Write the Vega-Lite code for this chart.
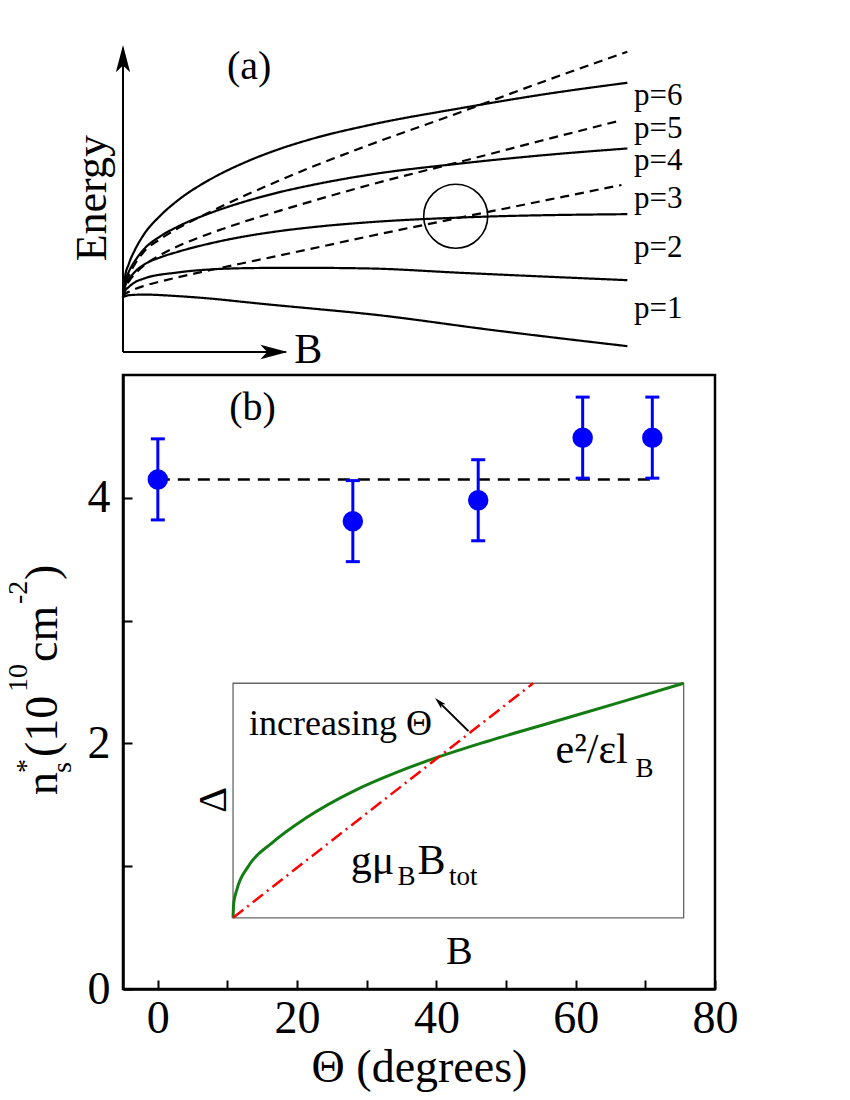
{
  "$schema": "https://vega.github.io/schema/vega-lite/v6.json",
  "background": "white",
  "padding": {"left": 3, "top": 45, "right": 5, "bottom": 5},
  "config": {"font": "Liberation Serif, Times New Roman, serif", "view": {"stroke": null}, "axis": {"grid": false, "labelFont": "Liberation Serif, Times New Roman, serif", "titleFont": "Liberation Serif, Times New Roman, serif"}, "text": {"font": "Liberation Serif, Times New Roman, serif"}},
  "spacing": 23,
  "bounds": "flush",
  "vconcat": [
    {
      "width": 592,
      "height": 307,
      "layer": [
        {
          "data": {"values": [
            {"curve": "S1", "kind": "solid", "B": 0, "E": 17.9}, {"curve": "S1", "kind": "solid", "B": 1, "E": 18.5}, {"curve": "S1", "kind": "solid", "B": 3.5, "E": 18.7}, {"curve": "S1", "kind": "solid", "B": 9.2, "E": 18.2}, {"curve": "S1", "kind": "solid", "B": 14.8, "E": 17.4}, {"curve": "S1", "kind": "solid", "B": 20.4, "E": 16.3}, {"curve": "S1", "kind": "solid", "B": 26.1, "E": 15.2}, {"curve": "S1", "kind": "solid", "B": 31.7, "E": 14.2}, {"curve": "S1", "kind": "solid", "B": 41.8, "E": 12.3}, {"curve": "S1", "kind": "solid", "B": 62.6, "E": 7.1}, {"curve": "S1", "kind": "solid", "B": 85.2, "E": 1.9},
            {"curve": "S2", "kind": "solid", "B": 0, "E": 17.9}, {"curve": "S2", "kind": "solid", "B": 0.3, "E": 19.7}, {"curve": "S2", "kind": "solid", "B": 1, "E": 21.2}, {"curve": "S2", "kind": "solid", "B": 2, "E": 22.7}, {"curve": "S2", "kind": "solid", "B": 3.5, "E": 23.9}, {"curve": "S2", "kind": "solid", "B": 9.2, "E": 25.9}, {"curve": "S2", "kind": "solid", "B": 14.8, "E": 26.9}, {"curve": "S2", "kind": "solid", "B": 20.4, "E": 27.3}, {"curve": "S2", "kind": "solid", "B": 26.1, "E": 27.4}, {"curve": "S2", "kind": "solid", "B": 31.7, "E": 27.4}, {"curve": "S2", "kind": "solid", "B": 41.8, "E": 27.2}, {"curve": "S2", "kind": "solid", "B": 57, "E": 25.8}, {"curve": "S2", "kind": "solid", "B": 85.2, "E": 23.4},
            {"curve": "S3", "kind": "solid", "B": 0, "E": 17.9}, {"curve": "S3", "kind": "solid", "B": 0.3, "E": 21}, {"curve": "S3", "kind": "solid", "B": 1, "E": 23.7}, {"curve": "S3", "kind": "solid", "B": 2, "E": 26.1}, {"curve": "S3", "kind": "solid", "B": 3.5, "E": 28.4}, {"curve": "S3", "kind": "solid", "B": 6.4, "E": 30.9}, {"curve": "S3", "kind": "solid", "B": 9.2, "E": 32.6}, {"curve": "S3", "kind": "solid", "B": 14.8, "E": 35.4}, {"curve": "S3", "kind": "solid", "B": 20.4, "E": 37.6}, {"curve": "S3", "kind": "solid", "B": 26.1, "E": 39.3}, {"curve": "S3", "kind": "solid", "B": 31.7, "E": 40.6}, {"curve": "S3", "kind": "solid", "B": 41.8, "E": 42.3}, {"curve": "S3", "kind": "solid", "B": 57, "E": 43.8}, {"curve": "S3", "kind": "solid", "B": 85.2, "E": 44.9},
            {"curve": "S4", "kind": "solid", "B": 0, "E": 17.9}, {"curve": "S4", "kind": "solid", "B": 0.3, "E": 22.4}, {"curve": "S4", "kind": "solid", "B": 1, "E": 26.2}, {"curve": "S4", "kind": "solid", "B": 2, "E": 29.6}, {"curve": "S4", "kind": "solid", "B": 3.5, "E": 33.4}, {"curve": "S4", "kind": "solid", "B": 6.4, "E": 37.8}, {"curve": "S4", "kind": "solid", "B": 9.2, "E": 40.8}, {"curve": "S4", "kind": "solid", "B": 14.8, "E": 45.3}, {"curve": "S4", "kind": "solid", "B": 20.4, "E": 48.9}, {"curve": "S4", "kind": "solid", "B": 26.1, "E": 51.9}, {"curve": "S4", "kind": "solid", "B": 31.7, "E": 54.3}, {"curve": "S4", "kind": "solid", "B": 41.8, "E": 57.8}, {"curve": "S4", "kind": "solid", "B": 57, "E": 61.4}, {"curve": "S4", "kind": "solid", "B": 71, "E": 64.1}, {"curve": "S4", "kind": "solid", "B": 85.2, "E": 66.3},
            {"curve": "S6", "kind": "solid", "B": 0, "E": 17.9}, {"curve": "S6", "kind": "solid", "B": 0.3, "E": 24.0}, {"curve": "S6", "kind": "solid", "B": 1, "E": 28.8}, {"curve": "S6", "kind": "solid", "B": 2, "E": 33.2}, {"curve": "S6", "kind": "solid", "B": 3.5, "E": 38.2}, {"curve": "S6", "kind": "solid", "B": 6.4, "E": 44.6}, {"curve": "S6", "kind": "solid", "B": 9.2, "E": 49.3}, {"curve": "S6", "kind": "solid", "B": 14.8, "E": 56.3}, {"curve": "S6", "kind": "solid", "B": 20.4, "E": 61.6}, {"curve": "S6", "kind": "solid", "B": 26.1, "E": 65.9}, {"curve": "S6", "kind": "solid", "B": 31.7, "E": 69.3}, {"curve": "S6", "kind": "solid", "B": 41.8, "E": 74.0}, {"curve": "S6", "kind": "solid", "B": 57, "E": 79.4}, {"curve": "S6", "kind": "solid", "B": 71, "E": 83.9}, {"curve": "S6", "kind": "solid", "B": 85.2, "E": 87.7},
            {"curve": "D1", "kind": "dashed", "B": 0, "E": 17.9}, {"curve": "D1", "kind": "dashed", "B": 0.3, "E": 21.5}, {"curve": "D1", "kind": "dashed", "B": 1, "E": 25}, {"curve": "D1", "kind": "dashed", "B": 2, "E": 28.6}, {"curve": "D1", "kind": "dashed", "B": 3.5, "E": 32.6}, {"curve": "D1", "kind": "dashed", "B": 6.4, "E": 36.9}, {"curve": "D1", "kind": "dashed", "B": 9.2, "E": 40.2}, {"curve": "D1", "kind": "dashed", "B": 14.8, "E": 45.7}, {"curve": "D1", "kind": "dashed", "B": 20.4, "E": 50.8}, {"curve": "D1", "kind": "dashed", "B": 26.1, "E": 55.6}, {"curve": "D1", "kind": "dashed", "B": 31.7, "E": 60.1}, {"curve": "D1", "kind": "dashed", "B": 41.8, "E": 67.6}, {"curve": "D1", "kind": "dashed", "B": 57, "E": 78.1}, {"curve": "D1", "kind": "dashed", "B": 70.6, "E": 87.8}, {"curve": "D1", "kind": "dashed", "B": 85.2, "E": 97.8},
            {"curve": "D2", "kind": "dashed", "B": 0, "E": 17.9}, {"curve": "D2", "kind": "dashed", "B": 0.3, "E": 20.6}, {"curve": "D2", "kind": "dashed", "B": 1, "E": 23}, {"curve": "D2", "kind": "dashed", "B": 2, "E": 25.4}, {"curve": "D2", "kind": "dashed", "B": 3.5, "E": 28.1}, {"curve": "D2", "kind": "dashed", "B": 6.4, "E": 31.7}, {"curve": "D2", "kind": "dashed", "B": 9.2, "E": 34.4}, {"curve": "D2", "kind": "dashed", "B": 14.8, "E": 38.7}, {"curve": "D2", "kind": "dashed", "B": 20.4, "E": 42.4}, {"curve": "D2", "kind": "dashed", "B": 26.1, "E": 45.8}, {"curve": "D2", "kind": "dashed", "B": 31.7, "E": 49.0}, {"curve": "D2", "kind": "dashed", "B": 41.8, "E": 54.5}, {"curve": "D2", "kind": "dashed", "B": 57, "E": 62}, {"curve": "D2", "kind": "dashed", "B": 70.6, "E": 68.8}, {"curve": "D2", "kind": "dashed", "B": 84.2, "E": 75.5},
            {"curve": "D3", "kind": "dashed", "B": 0, "E": 17.9}, {"curve": "D3", "kind": "dashed", "B": 0.3, "E": 18.8}, {"curve": "D3", "kind": "dashed", "B": 1, "E": 19.6}, {"curve": "D3", "kind": "dashed", "B": 2, "E": 20.5}, {"curve": "D3", "kind": "dashed", "B": 3.5, "E": 21.5}, {"curve": "D3", "kind": "dashed", "B": 6.4, "E": 23.0}, {"curve": "D3", "kind": "dashed", "B": 9.2, "E": 24.3}, {"curve": "D3", "kind": "dashed", "B": 14.8, "E": 26.7}, {"curve": "D3", "kind": "dashed", "B": 20.4, "E": 29.0}, {"curve": "D3", "kind": "dashed", "B": 26.1, "E": 31.3}, {"curve": "D3", "kind": "dashed", "B": 31.7, "E": 33.6}, {"curve": "D3", "kind": "dashed", "B": 41.8, "E": 37.8}, {"curve": "D3", "kind": "dashed", "B": 57, "E": 43.8}, {"curve": "D3", "kind": "dashed", "B": 70.6, "E": 49.1}, {"curve": "D3", "kind": "dashed", "B": 84.2, "E": 54.4}
          ]},
          "mark": {"type": "line", "interpolate": "monotone", "strokeWidth": 2.2, "color": "black"},
          "encoding": {
            "x": {"field": "B", "type": "quantitative", "scale": {"domain": [0, 100], "nice": false, "zero": false}, "axis": null},
            "y": {"field": "E", "type": "quantitative", "scale": {"domain": [0, 100], "nice": false, "zero": false}, "axis": null},
            "detail": {"field": "curve", "type": "nominal"},
            "strokeDash": {"field": "kind", "type": "nominal", "scale": {"domain": ["solid", "dashed"], "range": [[1, 0], [9, 6]]}, "legend": null}
          }
        },
        {
          "data": {"values": [{"B": 0, "E": 0, "E2": 99}]},
          "mark": {"type": "rule", "strokeWidth": 2, "color": "black"},
          "encoding": {"x": {"field": "B", "type": "quantitative"}, "y": {"field": "E", "type": "quantitative"}, "y2": {"field": "E2"}}
        },
        {
          "data": {"values": [{"B": 0, "B2": 27.5, "E": 0}]},
          "mark": {"type": "rule", "strokeWidth": 2, "color": "black"},
          "encoding": {"x": {"field": "B", "type": "quantitative"}, "x2": {"field": "B2"}, "y": {"field": "E", "type": "quantitative"}}
        },
        {
          "data": {"values": [{"B": 0, "E": 100}]},
          "mark": {"type": "point", "shape": "M0,0L-0.42,1.6L0,1.2L0.42,1.6Z", "size": 1156, "filled": true, "color": "black", "opacity": 1, "strokeWidth": 0, "angle": 0},
          "encoding": {"x": {"field": "B", "type": "quantitative"}, "y": {"field": "E", "type": "quantitative"}}
        },
        {
          "data": {"values": [{"B": 27.8, "E": 0}]},
          "mark": {"type": "point", "shape": "M0,0L-0.42,1.6L0,1.2L0.42,1.6Z", "size": 1156, "filled": true, "color": "black", "opacity": 1, "strokeWidth": 0, "angle": 90},
          "encoding": {"x": {"field": "B", "type": "quantitative"}, "y": {"field": "E", "type": "quantitative"}}
        },
        {
          "data": {"values": [{"B": 56.2, "E": 44.2}]},
          "mark": {"type": "point", "shape": "circle", "size": 4096, "filled": false, "color": "black", "opacity": 1, "strokeWidth": 1.6},
          "encoding": {"x": {"field": "B", "type": "quantitative"}, "y": {"field": "E", "type": "quantitative"}}
        },
        {
          "data": {"values": [
            {"B": 86.3, "E": 80.4, "label": "p=6"},
            {"B": 86.3, "E": 69.7, "label": "p=5"},
            {"B": 86.3, "E": 59.2, "label": "p=4"},
            {"B": 86.3, "E": 46.9, "label": "p=3"},
            {"B": 86.3, "E": 30.9, "label": "p=2"},
            {"B": 86.3, "E": 11.0, "label": "p=1"}
          ]},
          "mark": {"type": "text", "align": "left", "baseline": "alphabetic", "fontSize": 31, "color": "black"},
          "encoding": {"x": {"field": "B", "type": "quantitative"}, "y": {"field": "E", "type": "quantitative"}, "text": {"field": "label"}}
        },
        {
          "data": {"values": [{"B": 21.3, "E": 88.8, "label": "(a)"}]},
          "mark": {"type": "text", "align": "center", "baseline": "alphabetic", "fontSize": 40, "color": "black"},
          "encoding": {"x": {"field": "B", "type": "quantitative"}, "y": {"field": "E", "type": "quantitative"}, "text": {"field": "label"}}
        },
        {
          "data": {"values": [{"B": 31.3, "E": -3.7, "label": "B"}]},
          "mark": {"type": "text", "align": "center", "baseline": "alphabetic", "fontSize": 42, "color": "black"},
          "encoding": {"x": {"field": "B", "type": "quantitative"}, "y": {"field": "E", "type": "quantitative"}, "text": {"field": "label"}}
        },
        {
          "data": {"values": [{"B": -2.9, "E": 50.1, "label": "Energy"}]},
          "mark": {"type": "text", "align": "center", "baseline": "alphabetic", "fontSize": 44, "angle": 270, "color": "black"},
          "encoding": {"x": {"field": "B", "type": "quantitative"}, "y": {"field": "E", "type": "quantitative"}, "text": {"field": "label"}}
        }
      ]
    },
    {
      "width": 592,
      "height": 614,
      "view": {"stroke": "black", "strokeWidth": 2.5},
      "layer": [
        {
          "data": {"values": [{"theta": 10.8, "theta2": 75.5, "n": 0.58, "n2": 2.49}]},
          "mark": {"type": "rect", "fill": null, "stroke": "#666666", "strokeWidth": 1.3},
          "encoding": {
            "x": {"field": "theta", "type": "quantitative", "scale": {"domain": [-5, 80], "nice": false, "zero": false}, "title": "Θ (degrees)",
              "axis": {"values": [0, 10, 20, 30, 40, 50, 60, 70, 80], "format": "d", "labelExpr": "datum.value % 20 === 0 ? datum.label : ''", "tickSize": -9, "tickWidth": 2, "tickColor": "black", "domainColor": "black", "domainWidth": 2.5, "labelFontSize": 46, "labelColor": "black", "labelPadding": 16, "labelFlush": false, "labelOverlap": false, "titleFontSize": 46, "titleFontWeight": "normal", "titleColor": "black", "titlePadding": 4}},
            "x2": {"field": "theta2"},
            "y": {"field": "n", "type": "quantitative", "scale": {"domain": [0, 5], "nice": false, "zero": false}, "title": null,
              "axis": {"values": [0, 1, 2, 3, 4], "format": "d", "labelExpr": "datum.value % 2 === 0 ? datum.label : ''", "tickSize": -9, "tickWidth": 2, "tickColor": "black", "domainColor": "black", "domainWidth": 2.5, "labelFontSize": 46, "labelColor": "black", "labelPadding": 22, "labelFlush": false, "labelOverlap": false}},
            "y2": {"field": "n2"}
          }
        },
        {
          "data": {"values": [
            {"theta": -14.44, "n": 1.58, "label": "n"},
            {"theta": -14.44, "n": 1.889, "label": "(10"},
            {"theta": -14.44, "n": 2.663, "label": "cm"},
            {"theta": -14.44, "n": 3.331, "label": ")"}
          ]},
          "mark": {"type": "text", "align": "left", "baseline": "alphabetic", "fontSize": 46, "angle": 270, "color": "black"},
          "encoding": {"x": {"field": "theta", "type": "quantitative"}, "y": {"field": "n", "type": "quantitative"}, "text": {"field": "label"}}
        },
        {
          "data": {"values": [
            {"theta": -17.6, "n": 1.759, "label": "*"},
            {"theta": -12.4, "n": 1.759, "label": "s"},
            {"theta": -18.75, "n": 2.418, "label": "10"},
            {"theta": -18.75, "n": 3.135, "label": "-2"}
          ]},
          "mark": {"type": "text", "align": "left", "baseline": "alphabetic", "fontSize": 28, "angle": 270, "color": "black"},
          "encoding": {"x": {"field": "theta", "type": "quantitative"}, "y": {"field": "n", "type": "quantitative"}, "text": {"field": "label"}}
        },
        {
          "data": {"values": [
            {"theta": 10.8, "n": 0.58}, {"theta": 10.9, "n": 0.70}, {"theta": 11.35, "n": 0.81}, {"theta": 13.0, "n": 1.0}, {"theta": 16.4, "n": 1.19}, {"theta": 21.2, "n": 1.39}, {"theta": 28.4, "n": 1.62}, {"theta": 34.1, "n": 1.76}, {"theta": 40.3, "n": 1.89}, {"theta": 47.5, "n": 2.02}, {"theta": 57.1, "n": 2.18}, {"theta": 66.7, "n": 2.34}, {"theta": 75.5, "n": 2.49}
          ]},
          "mark": {"type": "line", "interpolate": "monotone", "color": "#137d13", "strokeWidth": 3},
          "encoding": {"x": {"field": "theta", "type": "quantitative"}, "y": {"field": "n", "type": "quantitative"}}
        },
        {
          "data": {"values": [{"theta": 10.8, "n": 0.58}, {"theta": 53.9, "n": 2.49}]},
          "mark": {"type": "line", "color": "#ff0000", "strokeWidth": 2.5, "strokeDash": [13, 5, 2, 5]},
          "encoding": {"x": {"field": "theta", "type": "quantitative"}, "y": {"field": "n", "type": "quantitative"}}
        },
        {
          "data": {"values": [{"theta": 44.6, "n": 2.10, "theta2": 40.3, "n2": 2.34}]},
          "mark": {"type": "rule", "color": "black", "strokeWidth": 2},
          "encoding": {"x": {"field": "theta", "type": "quantitative"}, "y": {"field": "n", "type": "quantitative"}, "x2": {"field": "theta2"}, "y2": {"field": "n2"}}
        },
        {
          "data": {"values": [{"theta": 39.8, "n": 2.37}]},
          "mark": {"type": "point", "shape": "M0,0L-0.42,1.6L0,1.2L0.42,1.6Z", "size": 225, "filled": true, "color": "black", "opacity": 1, "strokeWidth": 0, "angle": 315},
          "encoding": {"x": {"field": "theta", "type": "quantitative"}, "y": {"field": "n", "type": "quantitative"}}
        },
        {
          "data": {"values": [{"theta": 0, "theta2": 71, "n": 4.15}]},
          "mark": {"type": "rule", "color": "black", "strokeWidth": 2.5, "strokeDash": [12, 8]},
          "encoding": {"x": {"field": "theta", "type": "quantitative"}, "x2": {"field": "theta2"}, "y": {"field": "n", "type": "quantitative"}}
        },
        {
          "data": {"name": "pts", "values": [
            {"theta": 0, "n": 4.15, "lo": 3.82, "hi": 4.48},
            {"theta": 28, "n": 3.81, "lo": 3.48, "hi": 4.14},
            {"theta": 46, "n": 3.98, "lo": 3.65, "hi": 4.31},
            {"theta": 61, "n": 4.49, "lo": 4.16, "hi": 4.82},
            {"theta": 71, "n": 4.49, "lo": 4.16, "hi": 4.82}
          ]},
          "layer": [
            {"mark": {"type": "rule", "color": "#0000ff", "strokeWidth": 3}, "encoding": {"x": {"field": "theta", "type": "quantitative"}, "y": {"field": "lo", "type": "quantitative"}, "y2": {"field": "hi"}}},
            {"mark": {"type": "tick", "orient": "horizontal", "color": "#0000ff", "size": 14, "thickness": 3, "opacity": 1}, "encoding": {"x": {"field": "theta", "type": "quantitative"}, "y": {"field": "lo", "type": "quantitative"}}},
            {"mark": {"type": "tick", "orient": "horizontal", "color": "#0000ff", "size": 14, "thickness": 3, "opacity": 1}, "encoding": {"x": {"field": "theta", "type": "quantitative"}, "y": {"field": "hi", "type": "quantitative"}}},
            {"mark": {"type": "point", "shape": "circle", "filled": true, "size": 420, "color": "#0000ff", "opacity": 1}, "encoding": {"x": {"field": "theta", "type": "quantitative"}, "y": {"field": "n", "type": "quantitative"}}}
          ]
        },
        {
          "data": {"values": [
            {"theta": 13.6, "n": 4.63, "label": "(b)"},
            {"theta": 43.3, "n": 0.2, "label": "B"}
          ]},
          "mark": {"type": "text", "align": "center", "baseline": "alphabetic", "fontSize": 40, "color": "black"},
          "encoding": {"x": {"field": "theta", "type": "quantitative"}, "y": {"field": "n", "type": "quantitative"}, "text": {"field": "label"}}
        },
        {
          "data": {"values": [{"theta": 9.8, "n": 1.54, "label": "Δ"}]},
          "mark": {"type": "text", "align": "center", "baseline": "alphabetic", "fontSize": 40, "angle": 270, "color": "black"},
          "encoding": {"x": {"field": "theta", "type": "quantitative"}, "y": {"field": "n", "type": "quantitative"}, "text": {"field": "label"}}
        },
        {
          "data": {"values": [{"theta": 13.1, "n": 2.07, "label": "increasing Θ"}]},
          "mark": {"type": "text", "align": "left", "baseline": "alphabetic", "fontSize": 36, "color": "black"},
          "encoding": {"x": {"field": "theta", "type": "quantitative"}, "y": {"field": "n", "type": "quantitative"}, "text": {"field": "label"}}
        },
        {
          "data": {"values": [
            {"theta": 27.7, "n": 0.94, "label": "gμ"},
            {"theta": 37.3, "n": 0.94, "label": "B"},
            {"theta": 57.1, "n": 1.84, "label": "e²/εl"}
          ]},
          "mark": {"type": "text", "align": "left", "baseline": "alphabetic", "fontSize": 42, "color": "black"},
          "encoding": {"x": {"field": "theta", "type": "quantitative"}, "y": {"field": "n", "type": "quantitative"}, "text": {"field": "label"}}
        },
        {
          "data": {"values": [
            {"theta": 34.4, "n": 0.85, "label": "B"},
            {"theta": 41.8, "n": 0.85, "label": "tot"},
            {"theta": 68.6, "n": 1.73, "label": "B"}
          ]},
          "mark": {"type": "text", "align": "left", "baseline": "alphabetic", "fontSize": 27, "color": "black"},
          "encoding": {"x": {"field": "theta", "type": "quantitative"}, "y": {"field": "n", "type": "quantitative"}, "text": {"field": "label"}}
        }
      ]
    }
  ]
}
